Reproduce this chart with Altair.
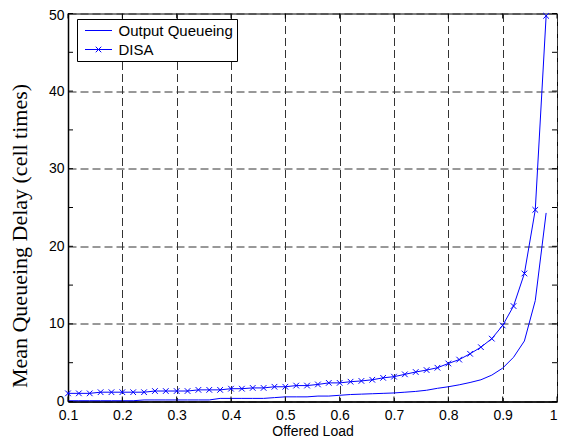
import altair as alt
import pandas as pd

series_names = ["Output Queueing", "DISA"]

load = [0.10, 0.12, 0.14, 0.16, 0.18, 0.20, 0.22, 0.24, 0.26, 0.28,
        0.30, 0.32, 0.34, 0.36, 0.38, 0.40, 0.42, 0.44, 0.46, 0.48,
        0.50, 0.52, 0.54, 0.56, 0.58, 0.60, 0.62, 0.64, 0.66, 0.68,
        0.70, 0.72, 0.74, 0.76, 0.78, 0.80, 0.82, 0.84, 0.86, 0.88,
        0.90, 0.92, 0.94, 0.96, 0.98]

delay_oq = [0.1, 0.1, 0.1, 0.1, 0.1, 0.1, 0.1, 0.2, 0.2, 0.2,
            0.2, 0.2, 0.2, 0.2, 0.4, 0.4, 0.4, 0.4, 0.4, 0.5,
            0.6, 0.6, 0.6, 0.7, 0.7, 0.8, 0.9, 0.95, 1.0, 1.05,
            1.1, 1.2, 1.3, 1.45, 1.7, 1.9, 2.15, 2.45, 2.8, 3.4,
            4.3, 5.7, 7.8, 13.0, 24.3]

delay_disa = [1.05, 1.05, 1.05, 1.2, 1.2, 1.2, 1.2, 1.2, 1.35, 1.35,
              1.35, 1.35, 1.5, 1.5, 1.5, 1.65, 1.65, 1.75, 1.75, 1.9,
              1.9, 2.05, 2.05, 2.2, 2.4, 2.4, 2.55, 2.65, 2.8, 3.05,
              3.2, 3.5, 3.8, 4.05, 4.35, 4.9, 5.4, 6.15, 7.0, 8.1,
              9.8, 12.3, 16.5, 24.7, 49.7]

x_ticks = [0.1, 0.2, 0.3, 0.4, 0.5, 0.6, 0.7, 0.8, 0.9, 1.0]
y_ticks = [0, 5, 10, 15, 20, 25, 30, 35, 40, 45, 50]

W, H = 489, 388
BLUE = "#0000ff"
XPATH = "M-1,-1L1,1M-1,1L1,-1"
LEG_OQ = "M-1.8,0H1.8"
LEG_DISA = "M-1.8,0H1.8M-0.37,-0.37L0.37,0.37M-0.37,0.37L0.37,-0.37"

df = pd.DataFrame(
    {"load": load * 2,
     "delay": delay_oq + delay_disa,
     "series": [series_names[0]] * len(load) + [series_names[1]] * len(load)}
)
df_disa = df[df["series"] == "DISA"]
df_xt = pd.DataFrame({"t": x_ticks})
df_yt = pd.DataFrame({"t": y_ticks})

xscale = alt.Scale(domain=[0.1, 1.0], nice=False, zero=False)
yscale = alt.Scale(domain=[0, 50], nice=False)

x_enc = alt.X(
    "load:Q", scale=xscale,
    axis=alt.Axis(values=x_ticks, title="Offered Load", format="~g",
                  titleY=33.5, titleBaseline="alphabetic",
                  labelAlign={"condition": {"test": "datum.value >= 1", "value": "right"},
                              "value": "center"}),
)
y_enc = alt.Y(
    "delay:Q", scale=yscale,
    axis=alt.Axis(values=y_ticks, title="Mean Queueing Delay (cell times)",
                  titleFont="Liberation Serif", titleFontSize=22,
                  titleFontWeight="normal", titleX=-42, titleY=222,
                  titleBaseline="alphabetic", titleAngle=270,
                  labelOffset={"condition": {"test": "datum.value >= 50", "value": 1.5},
                               "value": 0}),
)

lines = alt.Chart(df).mark_line(strokeWidth=1, color=BLUE).encode(
    x=x_enc,
    y=y_enc,
    detail="series:N",
    order="load:Q",
)

points = alt.Chart(df_disa).mark_point(
    shape=XPATH, size=32, filled=False, color=BLUE, strokeWidth=1, opacity=1
).encode(x="load:Q", y="delay:Q")

legend_layer = alt.Chart(df).transform_filter("false").mark_point(
    filled=False, color=BLUE, strokeWidth=1, opacity=1
).encode(
    x="load:Q",
    y="delay:Q",
    shape=alt.Shape(
        "series:N",
        scale=alt.Scale(domain=series_names, range=[LEG_OQ, LEG_DISA]),
        legend=alt.Legend(
            title=None, orient="none", legendX=9, legendY=5.5,
            direction="vertical", fillColor="white", strokeColor="black",
            padding=3.5, labelFont="Liberation Sans", labelFontSize=15,
            labelColor="black", symbolSize=225, symbolStrokeWidth=1,
            symbolStrokeColor=BLUE, symbolFillColor="transparent",
            symbolOpacity=1,
            symbolOffset=10, labelOffset=12, rowPadding=3,
            labelExpr="datum.label + '   '",
        ),
    ),
)

tick_len = 5
xt_bottom = alt.Chart(df_xt).mark_rule(color="black", strokeWidth=1).encode(
    x=alt.X("t:Q", scale=xscale), y=alt.value(H), y2=alt.value(H - tick_len))
xt_top = alt.Chart(df_xt).mark_rule(color="black", strokeWidth=1).encode(
    x=alt.X("t:Q", scale=xscale), y=alt.value(0), y2=alt.value(tick_len))
yt_left = alt.Chart(df_yt).mark_rule(color="black", strokeWidth=1).encode(
    y=alt.Y("t:Q", scale=yscale), x=alt.value(0), x2=alt.value(tick_len))
yt_right = alt.Chart(df_yt).mark_rule(color="black", strokeWidth=1).encode(
    y=alt.Y("t:Q", scale=yscale), x=alt.value(W), x2=alt.value(W - tick_len))

chart = alt.layer(
    lines, points, legend_layer, xt_bottom, xt_top, yt_left, yt_right
).properties(
    width=W, height=H,
    autosize=alt.AutoSizeParams(type="none"),
    padding={"left": 60, "top": 5.5, "right": 1, "bottom": 37},
    background="white",
).configure_view(
    stroke="black", strokeWidth=1
).configure_axis(
    grid=True, gridColor="#333333", gridDash=[8, 4], gridWidth=1, gridOpacity=1,
    domainColor="black", domainWidth=1.5, ticks=False, tickSize=0,
    labelFlush=False,
    labelFont="Liberation Sans", labelFontSize=14, labelColor="black",
    titleFont="Liberation Sans", titleFontSize=14, titleFontWeight="normal",
    titleColor="black",
).configure_axisX(
    labelPadding=7
).configure_axisY(
    labelPadding=4
)

chart.save("out.html", embed_options={"renderer": "svg", "actions": False})
